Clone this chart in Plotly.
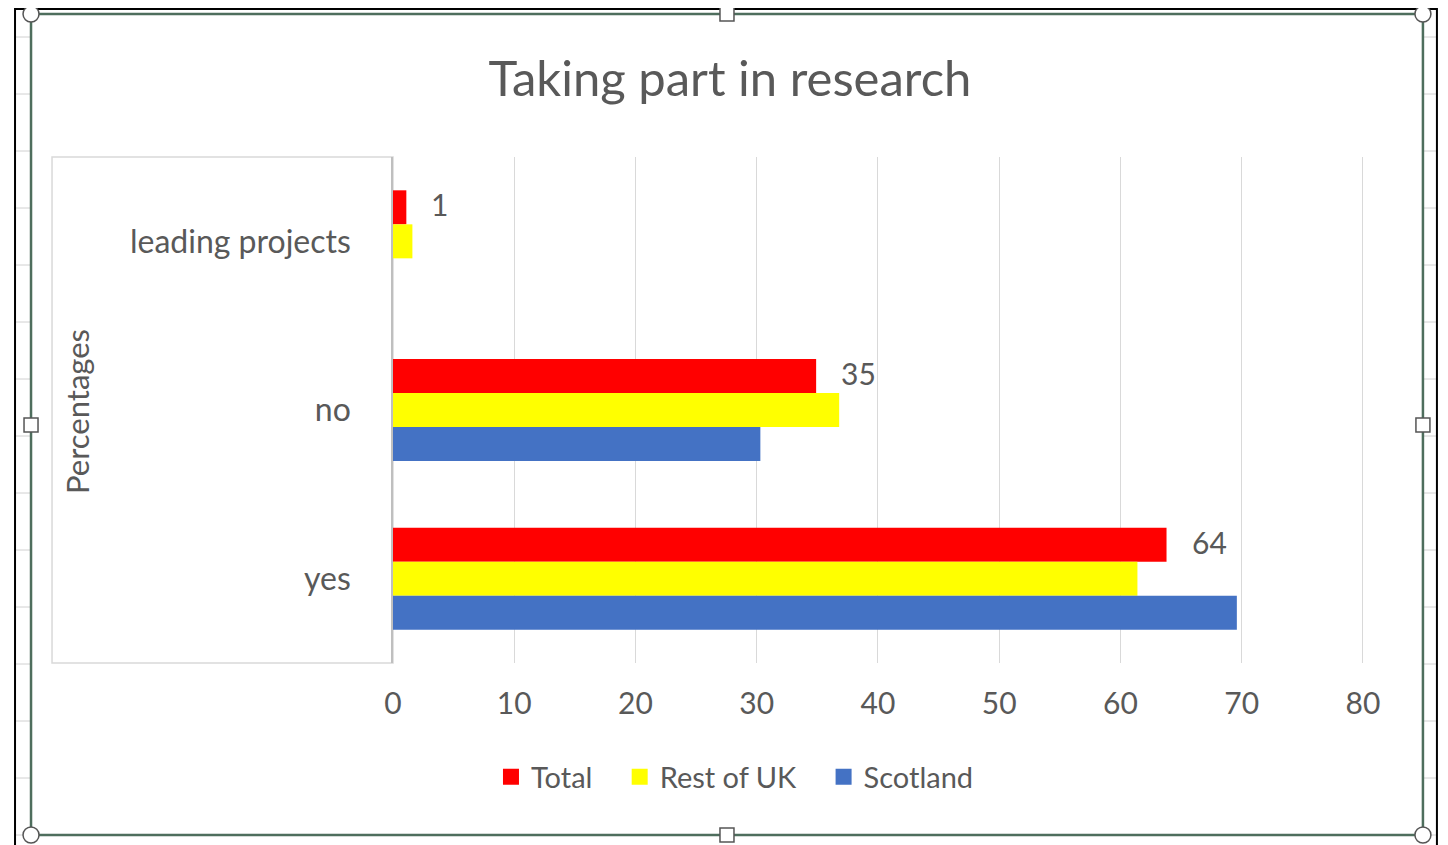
import plotly.graph_objects as go

categories = ["leading projects", "no", "yes"]
series_names = ["Total", "Rest of UK", "Scotland"]
total = [1.1, 34.9, 63.8]
rest_of_uk = [1.6, 36.8, 61.4]
scotland = [0.0, 30.3, 69.6]
colors = ["#FF0000", "#FFFF00", "#4472C4"]
x_ticks = [0, 10, 20, 30, 40, 50, 60, 70, 80]

OFF = 8  # page body margin
W, H = 1448 - OFF, 845 - OFF
UNIT = 970 / 80  # px per axis unit in the reference
X_MAX = 80.5
L = 393 - OFF
R = L + X_MAX * UNIT
T, B = 157 - OFF, 663 - OFF


def px(p):
    return (p - OFF - L) / (R - L)


def py(p):
    return (B - (p - OFF)) / (B - T)


FONT = "Lato"
GREY = "#595959"
PAD = "\u00a0\u00a0\u00a0"

fig = go.Figure()
for name, vals, col in zip(series_names, [total, rest_of_uk, scotland], colors):
    fig.add_trace(go.Bar(
        y=categories, x=vals, name=name, orientation="h",
        marker=dict(color=col, line=dict(width=0)), showlegend=False,
    ))
# legend entries with larger square swatches
for i, (name, col) in enumerate(zip(series_names, colors)):
    label = name + (PAD if i < len(series_names) - 1 else "")
    fig.add_trace(go.Scatter(
        x=[None], y=[None], mode="markers", name=label,
        marker=dict(symbol="square", size=17, color=col), showlegend=True,
    ))

annotations = []
for cat, v in zip(categories, total):
    annotations.append(dict(
        x=v, y=cat, xref="x", yref="y", text=f"{v:.0f}", showarrow=False,
        xanchor="left", yanchor="middle", xshift=23, yshift=37,
        font=dict(family=FONT, size=30, color=GREY),
    ))

annotations.append(dict(
    x=px(77), y=py(412), xref="paper", yref="paper", text="Percentages",
    textangle=-90, showarrow=False, xanchor="center", yanchor="middle",
    font=dict(family=FONT, size=31, color=GREY),
))

shapes = []
# box around category labels
shapes.append(dict(type="rect", xref="paper", yref="paper",
                   x0=px(52), x1=px(393), y0=py(663), y1=py(157),
                   line=dict(color="#D9D9D9", width=1.5), layer="below"))
# spreadsheet row ticks in side strips
for yy in range(37, 845, 57):
    shapes.append(dict(type="line", xref="paper", yref="paper",
                       x0=px(16), x1=px(31), y0=py(yy), y1=py(yy),
                       line=dict(color="#D0D0D0", width=1)))
    shapes.append(dict(type="line", xref="paper", yref="paper",
                       x0=px(1423), x1=px(1436), y0=py(yy), y1=py(yy),
                       line=dict(color="#D0D0D0", width=1)))
# outer black frame
shapes.append(dict(type="rect", xref="paper", yref="paper",
                   x0=px(15), x1=px(1437), y0=py(860), y1=py(9),
                   line=dict(color="#000000", width=2)))
# green selection border
shapes.append(dict(type="rect", xref="paper", yref="paper",
                   x0=px(31), x1=px(1423), y0=py(835), y1=py(14),
                   line=dict(color="#4E6E5D", width=2.5)))
# corner handles (circles)
for cx, cy in [(31, 14), (1423, 14), (31, 835), (1423, 835)]:
    shapes.append(dict(type="circle", xref="paper", yref="paper",
                       x0=px(cx - 8), x1=px(cx + 8), y0=py(cy + 8), y1=py(cy - 8),
                       fillcolor="white", line=dict(color="#555555", width=1.5)))
# side handles (squares)
for cx, cy in [(727, 14), (727, 835), (31, 425), (1423, 425)]:
    shapes.append(dict(type="rect", xref="paper", yref="paper",
                       x0=px(cx - 7), x1=px(cx + 7), y0=py(cy + 7), y1=py(cy - 7),
                       fillcolor="white", line=dict(color="#555555", width=1.5)))

fig.update_layout(
    width=W, height=H,
    margin=dict(l=L, r=W - R, t=T, b=H - B, pad=0),
    paper_bgcolor="white", plot_bgcolor="white",
    barmode="group", bargap=0.395, bargroupgap=0,
    title=dict(text="Taking part in research", x=px(730), xref="paper",
               xanchor="center", y=1 - (79 - OFF) / H, yanchor="middle",
               font=dict(family=FONT, size=49, color=GREY)),
    xaxis=dict(range=[0, X_MAX], tickvals=x_ticks, showgrid=True,
               gridcolor="#D9D9D9", gridwidth=1.2, zeroline=False,
               showline=False, ticks="", ticklabelstandoff=20,
               tickfont=dict(family=FONT, size=30, color=GREY)),
    yaxis=dict(categoryorder="array", categoryarray=categories,
               autorange="reversed", showgrid=False, zeroline=False,
               showline=True, linecolor="#BFBFBF", linewidth=1.5,
               ticks="", ticklabelstandoff=34,
               tickfont=dict(family=FONT, size=32, color=GREY)),
    legend=dict(orientation="h", x=px(735), xanchor="center",
                y=py(777), yanchor="middle",
                font=dict(family=FONT, size=29, color=GREY),
                itemsizing="trace", traceorder="normal"),
    annotations=annotations,
    shapes=shapes,
    showlegend=True,
)

fig.write_html("out.html")
